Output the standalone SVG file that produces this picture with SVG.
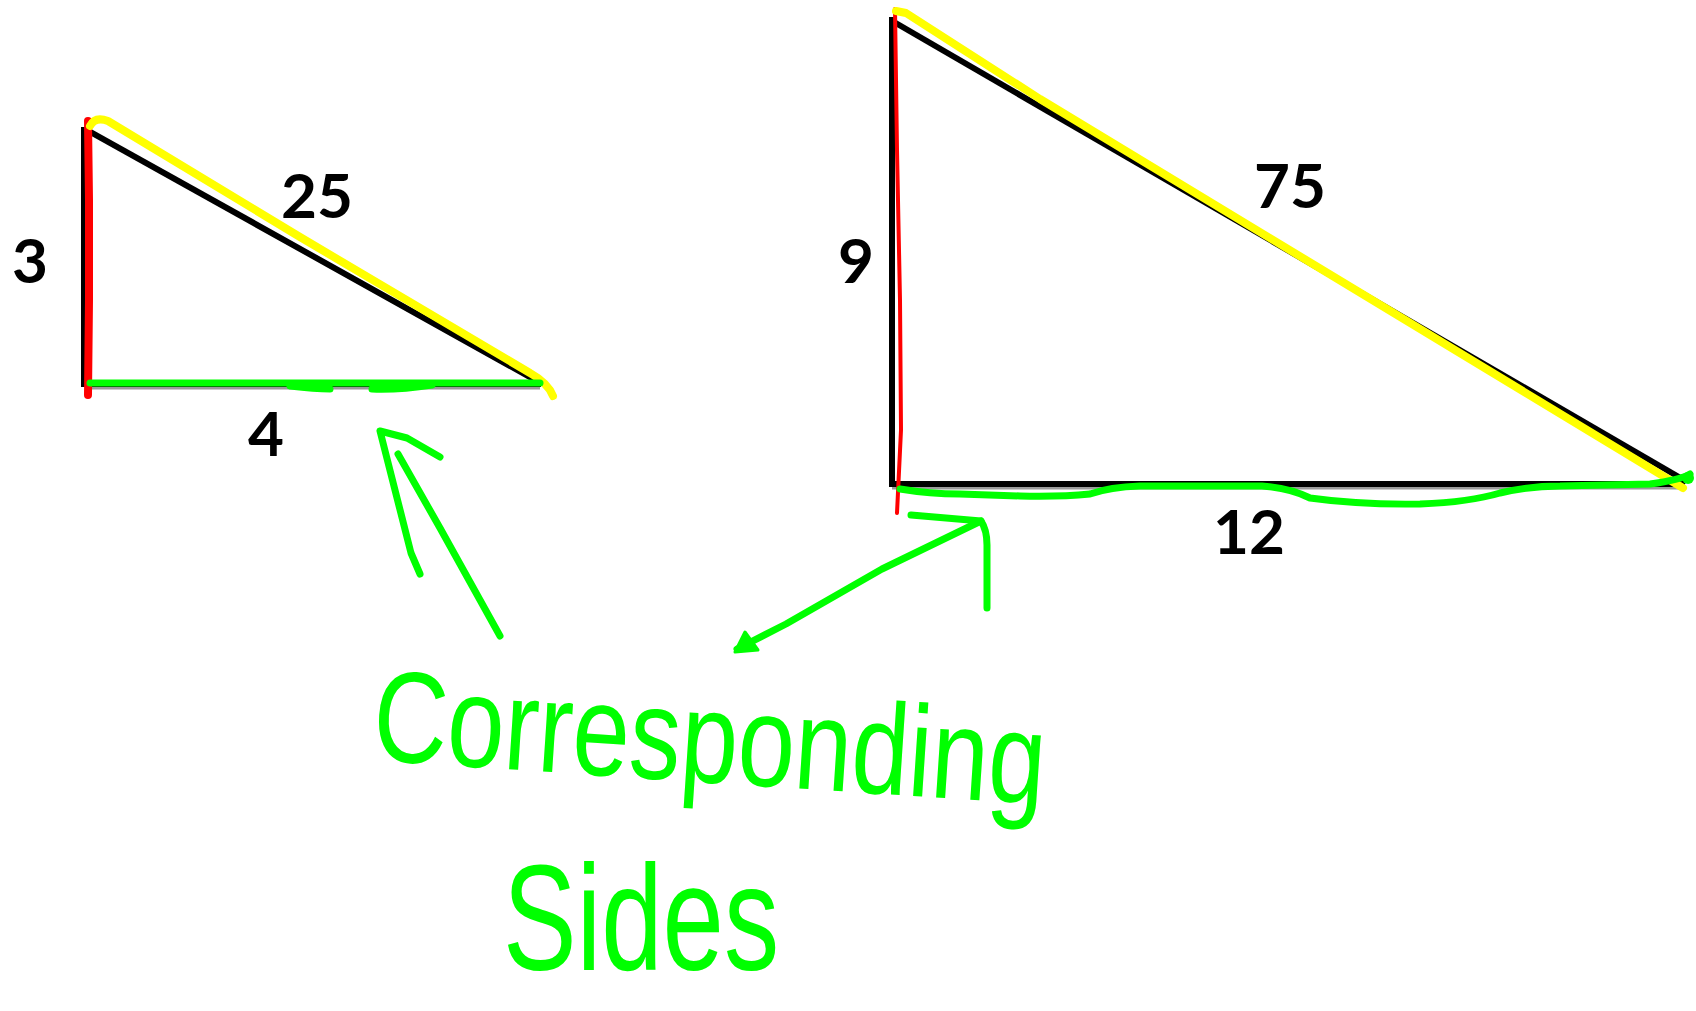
<svg xmlns="http://www.w3.org/2000/svg" width="1696" height="1011" viewBox="0 0 1696 1011">
<style>
.edge{fill:none;stroke:#000;stroke-width:6;stroke-linecap:square}
.shade{fill:none;stroke:#9a9a9a;stroke-width:3}
.red{fill:none;stroke:#ff0000;stroke-linecap:round;stroke-linejoin:round}
.yel{fill:none;stroke:#ffff00;stroke-width:8;stroke-linecap:round;stroke-linejoin:round}
.grn{fill:none;stroke:#00ff00;stroke-width:7;stroke-linecap:round;stroke-linejoin:round}
.lbl{font-family:Lato,"Liberation Sans",sans-serif;font-weight:bold;font-size:62px;fill:#000;text-anchor:middle}
.hand{font-family:"Liberation Sans","DejaVu Sans",sans-serif;fill:#00ff00}
</style>
<rect width="1696" height="1011" fill="#fff"/>

<g id="small-triangle">
  <line class="shade" x1="86" y1="388" x2="540" y2="388"/>
  <line class="edge" x1="84" y1="130" x2="84" y2="384"/>
  <line class="edge" x1="84" y1="384" x2="538" y2="384"/>
  <line class="edge" x1="87" y1="130" x2="535" y2="380"/>
  <path class="red" stroke-width="8" d="M88 121 L89 200 L89 300 L88 395"/>
  <path class="yel" d="M90 126 Q95 116 108 121 L300 237 L530 373 Q548 383 553 396"/>
  <path class="grn" d="M90 383 L540 383"/>
  <path class="grn" stroke-width="5" d="M290 386 Q315 389 330 389 M372 389 Q400 390 432 385"/>
  <text class="lbl" x="30" y="283">3</text>
  <text class="lbl" x="317" y="218">25</text>
  <text class="lbl" x="266" y="456">4</text>
</g>

<g id="big-triangle">
  <line class="shade" x1="892" y1="488" x2="1682" y2="488"/>
  <line class="edge" x1="892" y1="20" x2="892" y2="484"/>
  <line class="edge" x1="892" y1="484" x2="1682" y2="484"/>
  <line class="edge" x1="894" y1="22" x2="1684" y2="480"/>
  <path class="red" stroke-width="4" d="M895 9 L897 150 L900 300 L901 430 L897 513"/>
  <path class="yel" stroke-width="7" d="M896 11 L906 13 L1040 99 L1683 488"/>
  <path class="grn" stroke-width="6" d="M900 489 Q930 494 960 494 L1020 496 Q1060 497 1090 494 Q1110 487 1140 486 L1262 486 Q1290 488 1310 498 Q1360 505 1420 504 Q1470 502 1500 493 Q1530 486 1560 486 L1650 484 Q1680 480 1690 474"/>
  <circle cx="1688" cy="478" r="6" fill="#00ff00"/>
  <text class="lbl" x="856" y="283">9</text>
  <text class="lbl" x="1290" y="208">75</text>
  <text class="lbl" x="1249" y="554">12</text>
</g>

<g id="connectors">
  <g id="arrow-left">
    <path class="grn" d="M500 636 L440 528 L398 454"/>
    <path class="grn" d="M420 574 L411 553 L380 431 L407 438 L440 457"/>
  </g>
  <g id="arrow-right">
    <path class="grn" d="M737 649 L786 624 L882 569 L981 521"/>
    <polygon points="735,652 745,632 758,650" fill="#00ff00" stroke="#00ff00" stroke-width="3" stroke-linejoin="round"/>
    <path class="grn" d="M911 515 L981 521 Q987 530 987 545 L987 608"/>
  </g>
</g>

<g id="caption">
  <text class="hand" font-size="130" transform="translate(371 760) rotate(3.8) scale(0.79 1)">Corresponding</text>
  <text class="hand" font-size="150" transform="translate(503 970) scale(0.736 1)">Sides</text>
</g>
</svg>
